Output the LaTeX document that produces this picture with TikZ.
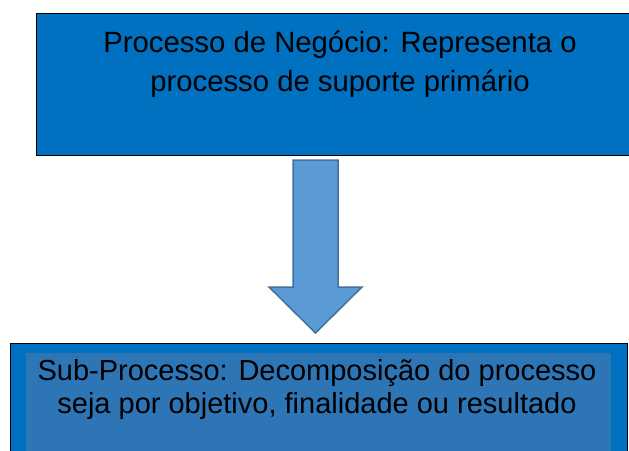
\documentclass[tikz,border=0pt]{standalone}
\usepackage{fontspec}
\setmainfont{Liberation Sans}
\usetikzlibrary{positioning}
\definecolor{boxblue}{HTML}{0070C0}
\definecolor{innerblue}{HTML}{2E75B6}
\definecolor{arrowblue}{HTML}{5B9BD5}
\definecolor{arrowline}{HTML}{41719C}
\tikzset{box/.style = {shape=rectangle, draw=black, line width=1pt, fill=boxblue, anchor=north west, inner sep=0pt}}
\tikzset{inbox/.style = {shape=rectangle, fill=innerblue, anchor=north west, inner sep=0pt}}
\tikzset{txt/.style = {align=center, inner sep=0pt, anchor=base}}
\tikzset{blockarrow/.style = {fill=arrowblue, draw=arrowline, line width=1.5pt, line join=miter}}

\begin{document}
\begin{tikzpicture}[x=1pt, y=-1pt]
		\useasboundingbox (0,0) rectangle (629,450);
		\clip (0,0) rectangle (629,450);
		% Nodes
		\node[box, minimum width=620pt, minimum height=142pt] (neg) at (36,13) {};
		\node[txt, font=\fontsize{29.3}{39}\selectfont] (negtxt) at (340,91)
			{Processo de Negócio: Representa o\\processo de suporte primário};
		\node[box, minimum width=617pt, minimum height=130pt] (sub) at (9.5,343) {};
		\node[inbox, minimum width=585pt, minimum height=120pt] (subin) at (26,353) {};
		\node[txt, font=\fontsize{29}{33}\selectfont] (subtxt) at (317,413)
			{Sub-Processo: Decomposição do processo\\seja por objetivo, finalidade ou resultado};
		% Arrow
		\draw[blockarrow] (293,160) -- (338,160) -- (338,287) -- (362,287)
			-- (315.5,333) -- (269,287) -- (293,287) -- cycle;
\end{tikzpicture}
\end{document}
